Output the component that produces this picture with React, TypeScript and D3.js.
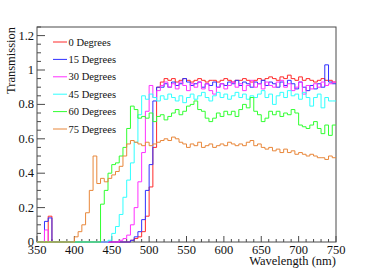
import React from "react";
import * as d3 from "d3";

const BIN_START = 350;
const BIN_WIDTH = 5;

const seriesNames = ["0 Degrees", "15 Degrees", "30 Degrees", "45 Degrees", "60 Degrees", "75 Degrees"];
const seriesColors = ["#ff2a2a", "#3030ff", "#ff30ff", "#30ffff", "#30ff30", "#e8873a"];

const deg0 = [
  0, 0, 0, 0.15, 0, 0, 0, 0, 0, 0, 0, 0, 0, 0, 0, 0, 0, 0, 0, 0, 0, 0, 0, 0, 0,
  0.01, 0.02, 0.03, 0.06, 0.15, 0.32, 0.55, 0.9,
  0.93, 0.95, 0.94, 0.95, 0.93, 0.94, 0.95, 0.94, 0.93, 0.94,
  0.95, 0.94, 0.93, 0.94, 0.94, 0.93, 0.94, 0.95, 0.94, 0.93,
  0.94, 0.94, 0.95, 0.94, 0.93, 0.94, 0.95, 0.94, 0.95, 0.96,
  0.95, 0.94, 0.96, 0.95, 0.97, 0.95, 0.94, 0.96, 0.94, 0.95,
  0.94, 0.93, 0.94, 0.95, 0.94, 0.94, 0.93,
];
const deg15 = [
  0, 0, 0.12, 0.14, 0, 0, 0, 0, 0, 0, 0, 0, 0, 0, 0, 0, 0, 0, 0, 0, 0, 0, 0, 0, 0,
  0.01, 0.03, 0.06, 0.13, 0.3, 0.45, 0.82, 0.9,
  0.9, 0.92, 0.9, 0.93, 0.91, 0.92, 0.95, 0.93, 0.91, 0.92,
  0.93, 0.9, 0.92, 0.91, 0.93, 0.9, 0.92, 0.91, 0.93, 0.92,
  0.94, 0.91, 0.93, 0.92, 0.9, 0.93, 0.92, 0.94, 0.91, 0.93,
  0.92, 0.9, 0.93, 0.91, 0.94, 0.92, 0.89, 0.93, 0.9, 0.88,
  0.91, 0.89, 0.92, 0.9, 1.03, 0.93, 0.92,
];
const deg30 = [
  0, 0, 0.07, 0, 0, 0, 0, 0, 0, 0, 0, 0, 0, 0, 0, 0, 0, 0, 0, 0, 0, 0, 0.01, 0.02, 0.04,
  0.1, 0.2, 0.35, 0.52, 0.76, 0.91, 0.84, 0.88,
  0.91, 0.93, 0.9, 0.92, 0.89, 0.93, 0.91, 0.88, 0.92, 0.9,
  0.93, 0.89, 0.92, 0.88, 0.86, 0.9, 0.92, 0.89, 0.91, 0.93,
  0.9, 0.92, 0.88, 0.91, 0.94, 0.9, 0.92, 0.89, 0.93, 0.91,
  0.9, 0.93, 0.94, 0.9, 0.92, 0.88, 0.9, 0.93, 0.86, 0.91,
  0.89, 0.92, 0.9, 0.93, 0.91, 0.92, 0.93,
];
const deg45 = [
  0, 0, 0, 0, 0, 0, 0, 0, 0, 0, 0, 0, 0, 0, 0, 0, 0, 0, 0, 0.01, 0.05, 0.09, 0.16, 0.26, 0.36,
  0.46, 0.58, 0.74, 0.85, 0.83, 0.86, 0.84, 0.82,
  0.85, 0.83, 0.86, 0.84, 0.82, 0.85, 0.81, 0.84, 0.86, 0.83,
  0.85, 0.87, 0.84, 0.82, 0.85, 0.87, 0.84, 0.86, 0.83, 0.85,
  0.87, 0.84, 0.86, 0.83, 0.85, 0.84, 0.86, 0.88, 0.84, 0.86,
  0.8, 0.85, 0.87, 0.84, 0.88, 0.85, 0.86, 0.83, 0.87, 0.84,
  0.79, 0.84, 0.86, 0.78, 0.84, 0.82, 0.82,
];
const deg60 = [
  0, 0, 0, 0, 0, 0, 0, 0, 0, 0, 0, 0, 0, 0, 0, 0, 0, 0.22, 0.3, 0.4, 0.45, 0.46, 0.5, 0.55, 0.66,
  0.79, 0.77, 0.72, 0.73, 0.72, 0.75, 0.7, 0.73,
  0.74, 0.71, 0.73, 0.75, 0.77, 0.74, 0.76, 0.79, 0.8, 0.82,
  0.77, 0.76, 0.72, 0.7, 0.72, 0.75, 0.73, 0.76, 0.74, 0.76,
  0.73, 0.77, 0.8, 0.78, 0.84, 0.76, 0.74, 0.7, 0.72, 0.76,
  0.74, 0.76, 0.73, 0.75, 0.74, 0.77, 0.75, 0.68, 0.67, 0.66,
  0.68, 0.7, 0.66, 0.63, 0.68, 0.62, 0.68,
];
const deg75 = [
  0, 0, 0, 0, 0, 0, 0, 0, 0, 0, 0.03, 0.06, 0.1, 0.17, 0.3, 0.5, 0.34, 0.37, 0.35, 0.37, 0.39, 0.41, 0.44, 0.5, 0.57,
  0.59, 0.58, 0.57, 0.56, 0.58, 0.56, 0.57, 0.58,
  0.59, 0.6, 0.59, 0.61, 0.6, 0.58, 0.57, 0.55, 0.57, 0.56,
  0.58, 0.55, 0.56, 0.57, 0.55, 0.56, 0.57, 0.56, 0.58, 0.57,
  0.56, 0.57, 0.56, 0.58, 0.59, 0.56, 0.57, 0.55, 0.54, 0.55,
  0.53, 0.54, 0.52, 0.54, 0.52, 0.53, 0.51, 0.52, 0.51, 0.5,
  0.51, 0.5, 0.49, 0.49, 0.48, 0.5, 0.49,
];
const seriesValues = [deg0, deg15, deg30, deg45, deg60, deg75];

const xMajorTicks = [350, 400, 450, 500, 550, 600, 650, 700, 750];
const yMajorTicks = [0, 0.2, 0.4, 0.6, 0.8, 1, 1.2];
const yTickLabels = ["0", "0.2", "0.4", "0.6", "0.8", "1", "1.2"];

const W = 374;
const H = 269;
const L = 37, R = 336, T = 27, B = 242;
const FONT = "'Liberation Serif', 'Times New Roman', Times, 'DejaVu Serif', serif";
const AXIS = "#4a4a4a";

export default function App() {
  const x = d3.scaleLinear().domain([350, 750]).range([L, R]);
  const y = d3.scaleLinear().domain([0, 1.25]).range([B, T]);

  const xMinor = d3.range(350, 751, 10);
  const yMinor = d3.range(0, 1.2501, 0.05);

  const line = d3
    .line<{ nm: number; v: number }>()
    .x((d) => x(d.nm))
    .y((d) => y(d.v))
    .curve(d3.curveStepAfter);

  const paths = seriesValues.map((vals) => {
    const pts = vals.map((v, i) => ({ nm: BIN_START + i * BIN_WIDTH, v }));
    pts.push({ nm: BIN_START + vals.length * BIN_WIDTH, v: vals[vals.length - 1] });
    return line(pts) || "";
  });

  const legendY = [42, 59.4, 76.8, 94.2, 111.6, 129];

  return (
    <div style={{ fontFamily: FONT }}>
      <svg
        width={W}
        height={H}
        style={{ position: "absolute", left: 0, top: 0, background: "#fff", fontFamily: FONT }}
      >
        <rect x={0} y={0} width={W} height={H} fill="#fff" />
        <rect x={L} y={T} width={R - L} height={B - T} fill="none" stroke={AXIS} strokeWidth={1} />
        {xMinor.map((t) => (
          <line key={"xm" + t} x1={x(t)} x2={x(t)} y1={B} y2={B - (t % 50 === 0 ? 6 : 3)} stroke={AXIS} strokeWidth={1} />
        ))}
        {yMinor.map((t, i) => (
          <line key={"ym" + i} x1={L} x2={L + (i % 4 === 0 ? 8 : 4)} y1={y(t)} y2={y(t)} stroke={AXIS} strokeWidth={1} />
        ))}
        {xMajorTicks.map((t) => (
          <text key={"xl" + t} x={x(t)} y={254} fontSize={12.5} textAnchor="middle" fill="#111" fontFamily={FONT}>
            {t}
          </text>
        ))}
        {yMajorTicks.map((t, i) => (
          <text key={"yl" + t} x={34} y={y(t) + 4} fontSize={12.5} textAnchor="end" fill="#111" fontFamily={FONT}>
            {yTickLabels[i]}
          </text>
        ))}
        <text x={R} y={265} fontSize={12.5} textAnchor="end" fill="#111" fontFamily={FONT}>
          Wavelength (nm)
        </text>
        <text transform={`translate(15,${T}) rotate(-90)`} fontSize={12.5} textAnchor="end" fill="#111" fontFamily={FONT}>
          Transmission
        </text>
        {paths.map((d, i) => (
          <path key={"s" + i} d={d} fill="none" stroke={seriesColors[i]} strokeWidth={1} />
        ))}
        {seriesNames.map((name, i) => (
          <g key={"lg" + i}>
            <line x1={53} x2={67} y1={legendY[i]} y2={legendY[i]} stroke={seriesColors[i]} strokeWidth={1} />
            <text x={68.5} y={legendY[i] + 3.6} fontSize={10.5} fill="#111" fontFamily={FONT}>
              {name}
            </text>
          </g>
        ))}
      </svg>
    </div>
  );
}
